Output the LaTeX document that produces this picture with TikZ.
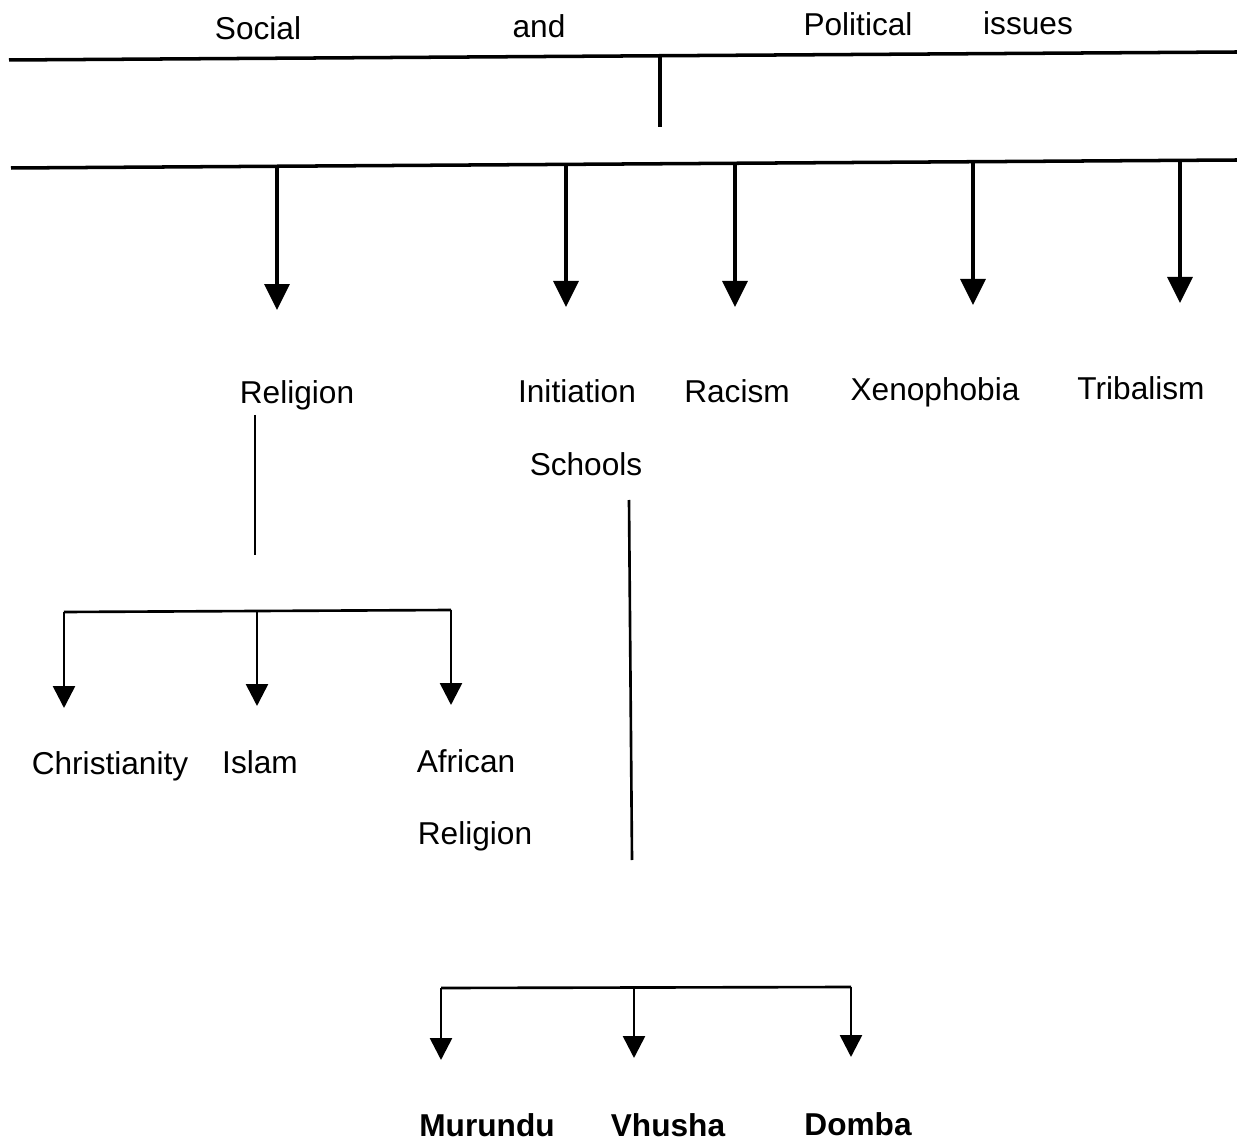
\documentclass[tikz,border=0pt]{standalone}
\usepackage{fontspec}
\setmainfont{Liberation Sans}
\usetikzlibrary{arrows.meta}
\begin{document}
\begin{tikzpicture}[x=0.02cm,y=-0.02cm,
  lbl/.style={font=\fontsize{18}{21}\selectfont,anchor=base,inner sep=0pt},
  boldlbl/.style={lbl,font=\fontsize{18}{21}\selectfont\bfseries},
  heavy/.style={line width=2pt},
  light/.style={line width=1.5pt},
  bigarrow/.style={heavy,-{Triangle[width=0.5cm,length=0.52cm]}},
  smallarrow/.style={light,-{Triangle[width=0.44cm,length=0.44cm]}}]
\useasboundingbox (0,0) rectangle (1237,1141);
% title row
\node[lbl] (social) at (258,40) {Social};
\node[lbl] (and) at (539,38) {and};
\node[lbl] (political) at (858,36) {Political};
\node[lbl] (issues) at (1028,35) {issues};
% the two long bars and the tick between them
\coordinate (topL) at (9,60);
\coordinate (topR) at (1237,52);
\coordinate (lowL) at (11,168);
\coordinate (lowR) at (1237,160);
\draw[heavy] (topL) -- (topR);
\draw[heavy] (lowL) -- (lowR);
\coordinate (tickA) at (660,56);
\coordinate (tickB) at (660,127);
\draw[heavy] (tickA) -- (tickB);
% arrows down to the issues
\foreach \name/\x/\ya/\yb in {rel/277/167/310, init/566/165/307, rac/735/164/307,
                              xen/973/162/305, trib/1180/161/303} {
  \coordinate (\name-from) at (\x,\ya);
  \coordinate (\name-to) at (\x,\yb);
  \draw[bigarrow] (\name-from) -- (\name-to);
}
\node[lbl] (religion) at (297,404) {Religion};
\node[lbl] (initiation) at (577,403) {Initiation};
\node[lbl] (schools) at (586,476) {Schools};
\node[lbl] (racism) at (737,403) {Racism};
\node[lbl] (xenophobia) at (935,401) {Xenophobia};
\node[lbl] (tribalism) at (1141,400) {Tribalism};
% religion branch
\coordinate (relA) at (255,415);
\coordinate (relB) at (255,555);
\draw[light] (relA) -- (relB);
\coordinate (relbarL) at (64,612);
\coordinate (relbarR) at (451,610);
\draw[light] (relbarL) -- (relbarR);
\foreach \name/\x/\ya/\yb in {chr/64/612/708, isl/257/611/706, afr/451/610/705} {
  \coordinate (\name-from) at (\x,\ya);
  \coordinate (\name-to) at (\x,\yb);
  \draw[smallarrow] (\name-from) -- (\name-to);
}
\node[lbl] (christianity) at (110,774) {Christianity};
\node[lbl] (islam) at (260,773) {Islam};
\node[lbl] (african) at (466,772) {African};
\node[lbl] (afrreligion) at (475,844) {Religion};
% initiation schools branch
\coordinate (schA) at (629,500);
\coordinate (schB) at (632,860);
\draw[light] (schA) -- (schB);
\coordinate (schbarL) at (441,988);
\coordinate (schbarR) at (851,987);
\draw[light] (schbarL) -- (schbarR);
\foreach \name/\x/\ya/\yb in {mur/441/988/1060, vhu/634/988/1058, dom/851/987/1057} {
  \coordinate (\name-from) at (\x,\ya);
  \coordinate (\name-to) at (\x,\yb);
  \draw[smallarrow] (\name-from) -- (\name-to);
}
\node[boldlbl] (murundu) at (487,1136) {Murundu};
\node[boldlbl] (vhusha) at (668,1136) {Vhusha};
\node[boldlbl] (domba) at (858,1135) {Domba};
\end{tikzpicture}
\end{document}
